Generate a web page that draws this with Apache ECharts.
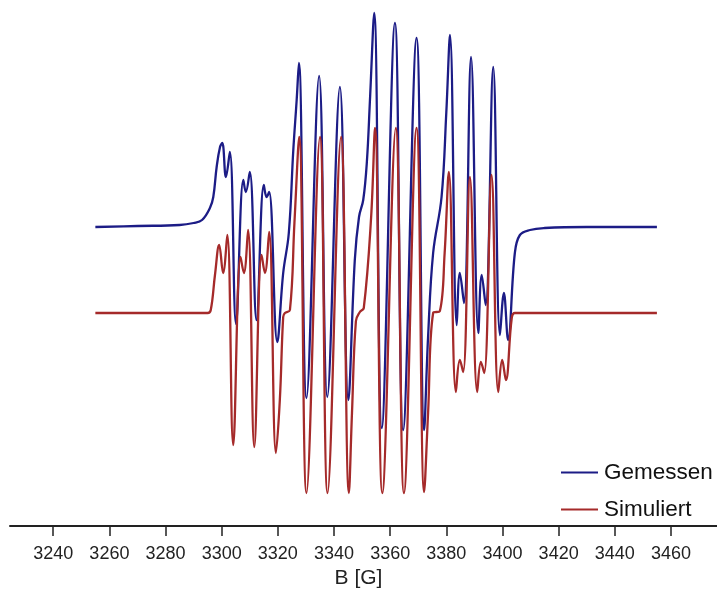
<!DOCTYPE html>
<html>
<head>
<meta charset="utf-8">
<script src="https://cdn.jsdelivr.net/npm/echarts@6/dist/echarts.min.js"></script>
<style>
html,body{margin:0;padding:0;background:#fff;}
#chart{width:717px;height:590px;}
</style>
</head>
<body>
<div id="chart"></div>
<script>
// Magnetic field positions (G) and signal (a.u.)
const measuredField = [3255, 3270, 3285, 3290, 3293, 3295.8, 3297.0, 3298.2, 3299.4, 3300.2, 3301.5, 3302.9, 3305.1,
  3307.7, 3308.6, 3310.0, 3312.4, 3315.0, 3316.0, 3316.9, 3319.8, 3321.9, 3323.9, 3325.5, 3326.7, 3327.5,
  3330.2, 3334.7, 3337.6, 3342.1, 3345.1, 3347.4, 3348.9, 3350.4, 3351.7, 3352.8, 3354.3,
  3357.0, 3361.7, 3364.6, 3369.4, 3372.1, 3373.5, 3375.3, 3378.3, 3380.0, 3381.3,
  3383.7, 3384.8, 3386.3, 3388.8, 3391.4, 3392.6, 3394.0, 3396.7, 3399.1, 3400.5, 3402.0,
  3404.4, 3406.2, 3409.8, 3415, 3430, 3455];
const measuredSignal = [0, 1, 2, 4, 7, 19, 30, 60, 80, 84, 50, 75, -97,
  47, 35, 55, -93, 42, 30, 35, -115, -46, -6, 77, 127, 164,
  -171, 151, -170, 140, -173, -33, 10, 27, 65, 127, 214,
  -201, 204, -203, 189, -203, -110, -26, 30, 115, 192,
  -98, -46, -76, 170, -106, -48, -78, 160, -108, -66, -113,
  -26, -8, -3, -1, 0, 0];

const simulatedField = [3255, 3280, 3295, 3296.1, 3297.6, 3299.1, 3300.5, 3302.0, 3304.1,
  3306.7, 3307.9, 3309.4, 3311.6, 3314.2, 3315.4, 3316.9, 3319.3, 3320.7, 3321.9, 3322.5, 3324.3, 3325.9, 3327.6,
  3330.2, 3335.0, 3337.7, 3342.5, 3345.3, 3346.4, 3347.8, 3349.2, 3350.6, 3353.2, 3354.6,
  3357.2, 3362.0, 3364.9, 3369.4, 3372.1, 3373.5, 3375.3, 3377.7, 3379.4, 3380.9,
  3383.4, 3384.8, 3386.0, 3388.4, 3391.0, 3392.3, 3393.5, 3396.1, 3398.5, 3399.9, 3401.2,
  3403.3, 3404.4, 3420, 3455];
const simulatedSignal = [0, 0, 0, 3, 38, 68, 40, 78, -132,
  56, 40, 83, -134, 58, 40, 81, -140, -87, -4, 0, 3, 90, 176,
  -180, 176, -180, 176, -180, -100, -8, 1, 5, 95, 185,
  -180, 185, -180, 185, -179, -100, 0, 2, 60, 141,
  -79, -47, -59, 136, -79, -49, -60, 138, -79, -47, -67,
  -5, 0, 0, 0];

const tickValues = [3240, 3260, 3280, 3300, 3320, 3340, 3360, 3380, 3400, 3420, 3440, 3460];

const measuredOffset = 299;
const simulatedOffset = 213;

const FONT = 'Liberation Sans, Arial, sans-serif';
const chart = echarts.init(document.getElementById('chart'));
chart.setOption({
  animation: false,
  backgroundColor: '#fff',
  grid: {left: 10, right: 0, top: 0, bottom: 64, containLabel: false, outerBoundsMode: 'none'},
  xAxis: {
    type: 'value', min: 3224.6, max: 3476.4,
    name: 'B [G]', nameLocation: 'middle', nameGap: 42,
    nameTextStyle: {fontSize: 21, color: '#222', fontFamily: FONT, padding: [0, 10, 0, 0]},
    axisLine: {show: true, lineStyle: {color: '#222', width: 2}},
    axisTick: {show: true, length: 10, lineStyle: {color: '#222', width: 1.5}, customValues: tickValues},
    axisLabel: {fontSize: 18, color: '#222', margin: 19, fontFamily: FONT, customValues: tickValues,
      formatter: v => String(Math.round(v))},
    splitLine: {show: false}
  },
  yAxis: {type: 'value', min: 0, max: 526, show: false, splitLine: {show: false}},
  legend: {
    orient: 'vertical', left: 556, top: 456, itemGap: 14, itemWidth: 37, itemHeight: 2,
    icon: 'rect',
    textStyle: {fontSize: 22.5, color: '#111', fontFamily: FONT, padding: [0, 0, 0, 1]},
    data: ['Gemessen', 'Simuliert']
  },
  series: [
    {name: 'Gemessen', type: 'line', symbol: 'none', smooth: 0.4,
     lineStyle: {color: '#1c1c86', width: 2.3}, itemStyle: {color: '#1c1c86'},
     data: measuredField.map((b, i) => [b, measuredSignal[i] + measuredOffset])},
    {name: 'Simuliert', type: 'line', symbol: 'none', smooth: 0.4,
     lineStyle: {color: '#a52a2a', width: 2.3}, itemStyle: {color: '#a52a2a'},
     data: simulatedField.map((b, i) => [b, simulatedSignal[i] + simulatedOffset])}
  ]
});
</script>
</body>
</html>
